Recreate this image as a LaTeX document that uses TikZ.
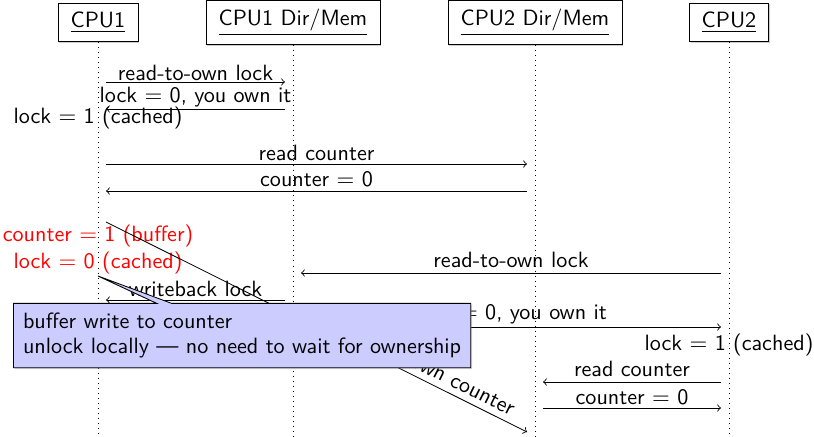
\documentclass[tikz,border=0pt]{standalone}
\usetikzlibrary{calc,shapes.callouts,shadows}
\begin{document}
\begin{tikzpicture}[x=0.479pt,y=-0.479pt,font=\sffamily\fontsize{10.6pt}{12pt}\selectfont,
  objbox/.style={draw, fill=white, inner xsep=0pt, inner ysep=4.3pt,
    drop shadow={shadow xshift=0.5pt, shadow yshift=-0.5pt, opacity=0.4}},
  lifeline/.style={dotted},
  msg/.style={->},
  lbl/.style={anchor=base, inner sep=0pt},
  statetxt/.style={anchor=base, inner sep=0pt},
  notebox/.style={rectangle callout, draw, fill=blue!20, align=left,
    anchor=north west, inner xsep=4.6pt, inner ysep=4.6pt,
    drop shadow={shadow xshift=0.6pt, shadow yshift=-0.6pt, opacity=0.35}}]
\useasboundingbox (0,0) rectangle (814,437);

% objects
\node[objbox, minimum width=38.3pt] (c1) at (98,22.5) {\underline{CPU1}};
\node[objbox, minimum width=83.3pt] (d1) at (293,22.5) {\underline{CPU1 Dir/Mem}};
\node[objbox, minimum width=83.3pt] (d2) at (535,22.5) {\underline{CPU2 Dir/Mem}};
\node[objbox, minimum width=37.8pt] (c2) at (729,22.5) {\underline{CPU2}};

% lifelines
\coordinate (c1b) at (c1 |- 0,437);
\coordinate (d1b) at (d1 |- 0,437);
\coordinate (d2b) at (d2 |- 0,437);
\coordinate (c2b) at (c2 |- 0,437);
\draw[lifeline] (c1) -- (c1b);
\draw[lifeline] (d1) -- (d1b);
\draw[lifeline] (d2) -- (d2b);
\draw[lifeline] (c2) -- (c2b);

% messages
\draw[msg] ($(c1 |- 0,82)+(8,0)$) -- node[lbl, yshift=0.6pt]{read-to-own lock} ($(d1 |- 0,82)-(8,0)$);
\draw[msg] ($(d1 |- 0,109)-(8,0)$) -- node[lbl, yshift=3.35pt]{lock $=$ 0, you own it} ($(c1 |- 0,109)+(8,0)$);
\node[statetxt] (s1) at (c1 |- 0,124) {lock $=$ 1 (cached)};

\draw[msg] ($(c1 |- 0,164)+(8,0)$) -- node[lbl, yshift=1.44pt]{read counter} ($(d2 |- 0,164)-(8,0)$);
\draw[msg] ($(d2 |- 0,191)-(8,0)$) -- node[lbl, yshift=1.92pt]{counter $=$ 0} ($(c1 |- 0,191)+(8,0)$);

\node[statetxt, text=red] (s2) at (c1 |- 0,242) {counter $=$ 1 (buffer)};
\node[statetxt, text=red] (s3) at (c1 |- 0,269) {lock $=$ 0 (cached)};

\draw[msg] ($(c1 |- 0,222)+(8,0)$) -- node[sloped, above=2pt, pos=0.755, inner sep=1pt]{read-to-own counter} ($(d2 |- 0,432)-(8,0)$);

\draw[msg] ($(c2 |- 0,273)-(8,0)$) -- node[lbl, yshift=2.4pt]{read-to-own lock} ($(d1 |- 0,273)+(8,0)$);
\draw[msg] ($(d1 |- 0,300)-(8,0)$) -- node[lbl, yshift=1.44pt]{writeback lock} ($(c1 |- 0,300)+(8,0)$);
\draw[msg] ($(d1 |- 0,327)+(8,0)$) -- node[lbl, yshift=3.83pt]{lock $=$ 0, you own it} ($(c2 |- 0,327)-(8,0)$);
\node[statetxt] (s4) at (c2 |- 0,350) {lock $=$ 1 (cached)};
\draw[msg] ($(c2 |- 0,382)-(8,0)$) -- node[lbl, yshift=2.4pt]{read counter} ($(d2 |- 0,382)+(8,0)$);
\draw[msg] ($(d2 |- 0,408)+(8,0)$) -- node[lbl, yshift=1.7pt]{counter $=$ 0} ($(c2 |- 0,408)-(8,0)$);

% note
\coordinate (tip) at (c1 |- 0,276);
\node[notebox, callout absolute pointer={(tip)}] (note) at (13,303)
  {buffer write to counter\\unlock locally --- no need to wait for ownership};
\end{tikzpicture}
\end{document}
